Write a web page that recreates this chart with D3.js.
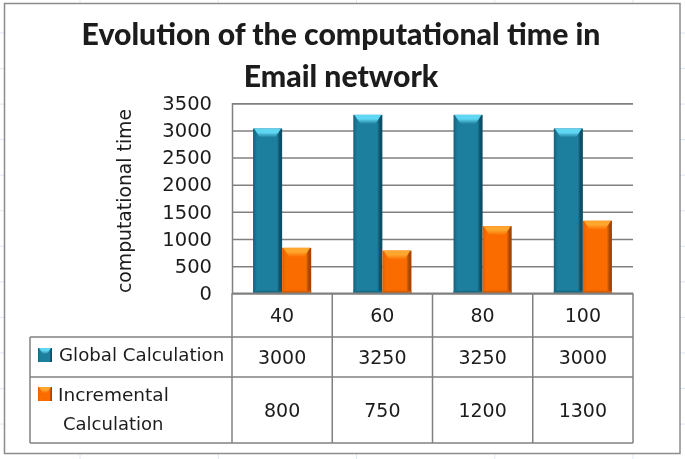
<!DOCTYPE html>
<html lang="en">
<head>
<meta charset="utf-8">
<title>Evolution of the computational time</title>
<script src="https://d3js.org/d3.v7.min.js"></script>
<style>
* { margin: 0; padding: 0; }
body { background: #fff; overflow: hidden; }
svg { display: block; }
text { font-family: 'DejaVu Sans', sans-serif; fill: #1c1c1c; }
</style>
</head>
<body>
<script>
const titleLines = ["Evolution of the computational time in", "Email network"];
const yAxisLabel = "computational time";
const categories = ["40", "60", "80", "100"];
const seriesNames = ["Global Calculation", "Incremental Calculation"];
const globalValues = [3000, 3250, 3250, 3000];
const incrementalValues = [800, 750, 1200, 1300];
const yTicks = [0, 500, 1000, 1500, 2000, 2500, 3000, 3500];

const w = 685, h = 459;
const plotLeft = 232, plotRight = 633, plotTop = 103.3, plotBottom = 293.3;
const tableLeft = 30;
const rowLines = [293.3, 337, 377, 443];
const bevel = 9; // depth of the lit top face of each bar

const svg = d3.select("body").append("svg").attr("width", w).attr("height", h);
const defs = svg.append("defs");

// soft look of the scaled-up screenshot
defs.append("filter").attr("id", "soft")
  .attr("x", 0).attr("y", 0).attr("width", 1).attr("height", 1)
  .append("feGaussianBlur").attr("stdDeviation", 0.5);

function barGradient(id, edge, mid, edge2) {
  let g = defs.append("linearGradient").attr("id", id);
  g.append("stop").attr("offset", "0").attr("stop-color", edge);
  g.append("stop").attr("offset", "0.14").attr("stop-color", mid);
  g.append("stop").attr("offset", "0.82").attr("stop-color", mid);
  g.append("stop").attr("offset", "0.92").attr("stop-color", edge2);
  g.append("stop").attr("offset", "1").attr("stop-color", edge2);
}
function topGradient(id, light, mid) {
  let g = defs.append("linearGradient").attr("id", id).attr("x2", 0).attr("y2", 1);
  g.append("stop").attr("offset", "0").attr("stop-color", light);
  g.append("stop").attr("offset", "0.45").attr("stop-color", light);
  g.append("stop").attr("offset", "1").attr("stop-color", mid);
}
barGradient("blueBar", "#15627b", "#1f7f9d", "#0c4f66");
barGradient("orangeBar", "#e26000", "#fb6c00", "#a84500");
topGradient("blueTop", "#5fd6f2", "#1f7f9d");
topGradient("orangeTop", "#ffa62e", "#fb6c00");

const seriesStyle = [
  { fill: "url(#blueBar)", top: "url(#blueTop)", base: "#196c86" },
  { fill: "url(#orangeBar)", top: "url(#orangeTop)", base: "#d95c00" }
];

const root = svg.append("g").attr("filter", "url(#soft)");

// spreadsheet cells showing round the chart frame
root.append("g").selectAll("line")
  .data(d3.range(80, w, 138.25))
  .join("line")
  .attr("x1", d => d).attr("x2", d => d).attr("y1", 0).attr("y2", h)
  .attr("stroke", "#dfe6f5");
root.append("g").selectAll("line")
  .data(d3.range(33, h, 35.55))
  .join("line")
  .attr("y1", d => d).attr("y2", d => d).attr("x1", 0).attr("x2", w)
  .attr("stroke", "#dfe6f5");

// chart frame
root.append("rect")
  .attr("x", 4.5).attr("y", 3.5).attr("width", 675.5).attr("height", 450)
  .attr("fill", "#fff").attr("stroke", "#8c8c8c").attr("stroke-width", 1.5);

// title
root.append("g").selectAll("text")
  .data(titleLines)
  .join("text")
  .attr("x", 341).attr("y", (d, i) => 45 + i * 42)
  .attr("text-anchor", "middle")
  .style("font-family", "Lato, sans-serif")
  .attr("font-weight", 900).attr("font-size", 30.2)
  .attr("fill", "#0a0a0a")
  .text(d => d);

const x = d3.scaleBand().domain(categories).range([plotLeft, plotRight])
  .paddingInner(0.42).paddingOuter(0.21);
const x1 = d3.scaleBand().domain(d3.range(seriesNames.length)).range([0, x.bandwidth()]);
const y = d3.scaleLinear().domain([0, 3500]).range([plotBottom, plotTop]);

// y axis with gridlines
const yAxis = root.append("g")
  .attr("transform", `translate(${plotLeft},0)`)
  .call(d3.axisLeft(y).tickValues(yTicks).tickFormat(d3.format("d"))
    .tickSize(-(plotRight - plotLeft)).tickPadding(20));
yAxis.select(".domain").attr("stroke", "#808080").attr("stroke-width", 1.5);
yAxis.selectAll(".tick line").attr("stroke", "#808080").attr("stroke-width", 1.5);
yAxis.selectAll(".tick text").attr("font-size", 19.5).attr("fill", "#1c1c1c")
  .style("font-family", "'DejaVu Sans', sans-serif");

root.append("text")
  .attr("transform", "translate(131,201) rotate(-90)")
  .attr("text-anchor", "middle").attr("font-size", 18.8)
  .text(yAxisLabel);

// bars
[globalValues, incrementalValues].forEach((values, s) => {
  const st = seriesStyle[s];
  const g = root.append("g").selectAll("g")
    .data(values)
    .join("g")
    .attr("transform", (d, i) => `translate(${x(categories[i]) + x1(s)},0)`);
  // y(d) - 2: the top face stands a little above the value
  g.append("rect")
    .attr("y", d => y(d) - 2).attr("width", x1.bandwidth())
    .attr("height", d => plotBottom - y(d) + 2)
    .attr("fill", st.fill);
  g.append("path")
    .attr("d", d => {
      const t = y(d) - 2, bw = x1.bandwidth();
      return `M1,${t}H${bw - 1}L${bw - 7},${t + bevel}H7Z`;
    })
    .attr("fill", st.top);
  g.append("rect")
    .attr("y", plotBottom - 2.5).attr("width", x1.bandwidth()).attr("height", 2.5)
    .attr("fill", st.base);
});

// data table
const tableLines = root.append("g").attr("stroke", "#808080").attr("stroke-width", 1.5);
rowLines.forEach((ry, i) => {
  tableLines.append("line")
    .attr("x1", i === 0 ? plotLeft : tableLeft).attr("x2", plotRight)
    .attr("y1", ry).attr("y2", ry);
});
[plotLeft].concat(categories.map((c, i) => plotLeft + x.step() * (i + 1))).forEach(cx => {
  tableLines.append("line").attr("x1", cx).attr("x2", cx)
    .attr("y1", plotBottom).attr("y2", rowLines[3]);
});
tableLines.append("line").attr("x1", tableLeft).attr("x2", tableLeft)
  .attr("y1", rowLines[1]).attr("y2", rowLines[3]);

const cellX = i => x(categories[i]) + x.bandwidth() / 2;
const tableRows = [categories, globalValues, incrementalValues];
tableRows.forEach((row, r) => {
  root.append("g").selectAll("text")
    .data(row)
    .join("text")
    .attr("x", (d, i) => cellX(i))
    .attr("y", (rowLines[r] + rowLines[r + 1]) / 2 + 7)
    .attr("text-anchor", "middle").attr("font-size", 19)
    .text(d => d);
});

// legend keys in the first column
function legendKey(kx, ky, st) {
  const k = root.append("g").attr("transform", `translate(${kx},${ky})`);
  k.append("rect").attr("width", 14).attr("height", 14).attr("fill", st.fill);
  k.append("path").attr("d", "M1,0H13L9,6H5Z").attr("fill", st.top);
}
legendKey(38, 348, seriesStyle[0]);
legendKey(38, 387, seriesStyle[1]);

root.append("text").attr("x", 59).attr("y", 361).attr("font-size", 18.2).text(seriesNames[0]);
const wrapped = seriesNames[1].split(" ");
root.append("text").attr("x", 58).attr("y", 401).attr("font-size", 18.5).text(wrapped[0]);
root.append("text").attr("x", 63).attr("y", 430).attr("font-size", 18).text(wrapped[1]);
</script>
</body>
</html>
